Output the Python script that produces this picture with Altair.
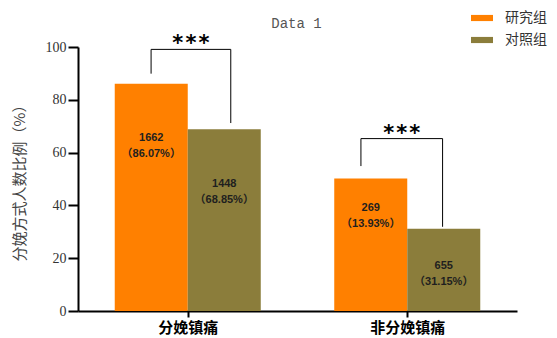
import altair as alt
import pandas as pd

# ---- data ----
categories = ["分娩镇痛", "非分娩镇痛"]
groups = ["研究组", "对照组"]
study_pct = [86.07, 50.2]      # drawn bar heights (%)
control_pct = [68.85, 31.15]
study_n = ["1662", "269"]
control_n = ["1448", "655"]
study_lbl = ["（86.07%）", "（13.93%）"]
control_lbl = ["（68.85%）", "（31.15%）"]
study_label_at = [65.7, 38.9]
control_label_at = [48.0, 17.0]

# significance brackets (data units)
br_left_x = [0.333, 1.289]
br_right_x = [0.696, 1.661]
br_top = [99.1, 65.3]
br_left_bottom = [89.9, 54.9]
br_right_bottom = [71.2, 31.9]
br_text = ["*\u200a*\u200a*", "*\u200a*\u200a*"]

chart_title = "Data 1"

colors = ["#FF8000", "#8B7D3B"]
BW = 0.3326  # bar width in group units

rows = []
for i, c in enumerate(categories):
    ctr = i + 0.5
    rows.append(dict(cat=c, grp=groups[0], x0=ctr - BW, x1=ctr, v=study_pct[i],
                     n=study_n[i], p=study_lbl[i], ly=study_label_at[i]))
    rows.append(dict(cat=c, grp=groups[1], x0=ctr, x1=ctr + BW, v=control_pct[i],
                     n=control_n[i], p=control_lbl[i], ly=control_label_at[i]))
df = pd.DataFrame(rows)
df["xm"] = (df.x0 + df.x1) / 2

br = pd.DataFrame(dict(lx=br_left_x, rx=br_right_x, top=br_top,
                       lb=br_left_bottom, rb=br_right_bottom, t=br_text))
br["mx"] = (br.lx + br.rx) / 2

label_expr = " : ".join(
    [f"datum.value == {i + 0.5} ? '{c}'" for i, c in enumerate(categories[:-1])]
) + f" : '{categories[-1]}'"

xscale = alt.Scale(domain=[0, 2], nice=False, zero=False)
yscale = alt.Scale(domain=[0, 100], nice=False)

xaxis = alt.Axis(values=[i + 0.5 for i in range(len(categories))], labelExpr=label_expr,
                 title=None, grid=False, domainColor="black", domainWidth=2,
                 tickColor="black", tickWidth=2, tickSize=6, labelPadding=3,
                 labelFont="Noto Sans CJK SC", labelFontSize=15, labelFontWeight="bold",
                 labelColor="black")
yaxis = alt.Axis(values=[0, 20, 40, 60, 80, 100], title="分娩方式人数比例（%）", grid=False,
                 domainColor="black", domainWidth=2, tickColor="black", tickWidth=2,
                 tickSize=10, labelPadding=2, labelFont="Liberation Serif", labelFontSize=14,
                 labelColor="#333333", titleFont="Noto Sans CJK SC", titleFontSize=15,
                 titleFontWeight="normal", titleColor="#444444", titlePadding=18)

bars = alt.Chart(df).mark_rect().encode(
    x=alt.X("x0:Q", scale=xscale, axis=xaxis),
    x2="x1:Q",
    y=alt.Y("v:Q", scale=yscale, axis=yaxis),
    y2=alt.datum(0),
    color=alt.Color("grp:N", scale=alt.Scale(domain=groups, range=colors),
                    legend=alt.Legend(title=None, orient="none", legendX=393, legendY=-40,
                                      symbolType="M-1,-0.28L1,-0.28L1,0.28L-1,0.28Z",
                                      symbolSize=484, symbolStrokeWidth=0,
                                      labelFont="Noto Sans CJK SC", labelFontSize=14,
                                      labelColor="#333333", labelOffset=12, rowPadding=4,
                                      padding=0)),
)

lbl_font = "Liberation Sans, Noto Sans CJK SC"
t1 = alt.Chart(df).mark_text(font=lbl_font, fontSize=11, fontWeight=600,
                             color="#1f1f1f", baseline="middle").encode(
    x="xm:Q", y="ly:Q", text="n:N")
t2 = alt.Chart(df).mark_text(font=lbl_font, fontSize=11, fontWeight=600,
                             color="#1f1f1f", baseline="middle", dy=16).encode(
    x="xm:Q", y="ly:Q", text="p:N")

rl = alt.Chart(br).mark_rule(color="black", strokeWidth=1).encode(x="lx:Q", y="lb:Q", y2="top:Q")
rr = alt.Chart(br).mark_rule(color="black", strokeWidth=1).encode(x="rx:Q", y="rb:Q", y2="top:Q")
rh = alt.Chart(br).mark_rule(color="black", strokeWidth=1).encode(x="lx:Q", x2="rx:Q", y="top:Q")
stars = alt.Chart(br).mark_text(font="DejaVu Sans", fontSize=21, fontWeight="bold",
                                color="black", baseline="alphabetic", dy=1).encode(
    x="mx:Q", y="top:Q", text="t:N")

title = alt.Chart(pd.DataFrame({"t": [chart_title]})).mark_text(
    font="Liberation Mono", fontSize=14, color="#555555", baseline="alphabetic"
).encode(x=alt.value(218.5), y=alt.value(-19), text="t:N")

chart = alt.layer(bars, t1, t2, rl, rr, rh, stars, title).properties(
    width=439, height=264,
    autosize=alt.AutoSizeParams(type="none"),
    padding={"left": 78, "top": 47, "right": 40, "bottom": 27},
).configure_view(stroke=None)

chart.save("out.html", embed_options={"renderer": "svg", "actions": False})
